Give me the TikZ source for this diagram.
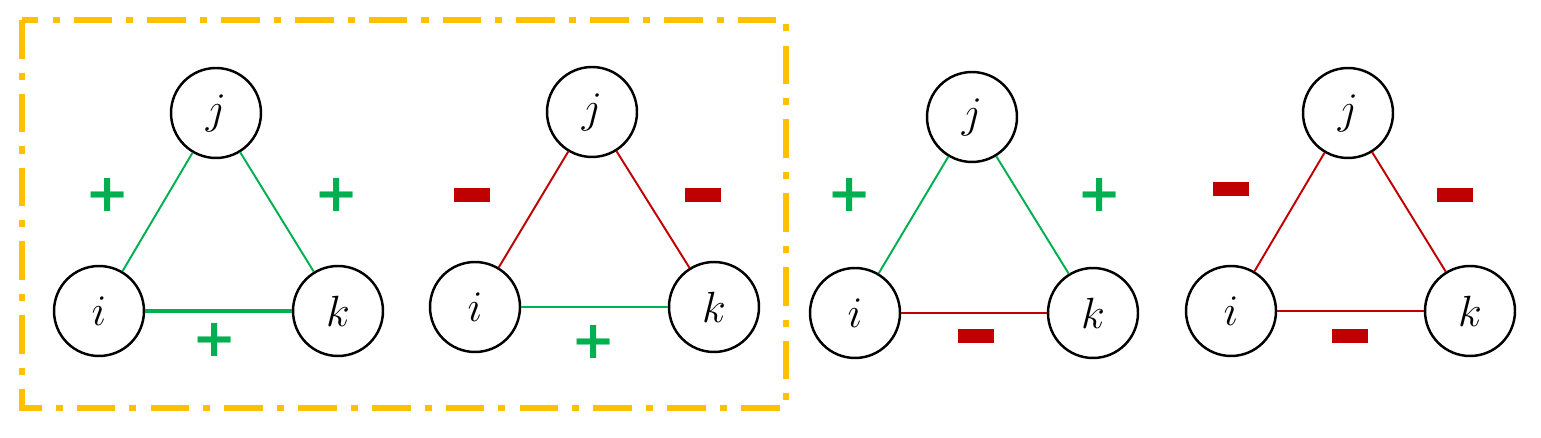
\documentclass[tikz,border=0pt]{standalone}
\usepackage{fontspec}
\newfontfamily\signfont{DejaVu Sans}
\definecolor{posgreen}{HTML}{00B050}
\definecolor{negred}{HTML}{C00000}
\definecolor{boxorange}{HTML}{FFC000}
\tikzset{
  vert/.style={circle, draw=black, line width=1.4pt, minimum size=1.8cm, inner sep=0pt, font=\fontsize{30}{30}\selectfont},
  posedge/.style={posgreen, line width=1.1pt},
  negedge/.style={negred, line width=1.1pt},
  plussign/.style={text=posgreen, font=\signfont\bfseries\fontsize{30}{30}\selectfont, inner sep=0pt},
  minussign/.style={fill=negred, minimum width=0.72cm, minimum height=0.28cm, inner sep=0pt}
}
\begin{document}
\begin{tikzpicture}[x=0.02cm, y=-0.02cm]
\useasboundingbox (0,0) rectangle (1541,438);
% bounding box of the balanced pair
\draw[boxorange, line width=3.2pt, dash pattern=on 22pt off 8pt on 4pt off 8pt] (22,20) rectangle (786,408);
% triangle 1
\node[vert] (j1) at (216,113) {$j$};
\node[vert] (i1) at (99,311) {$i$};
\node[vert] (k1) at (338,311) {$k$};
\draw[posedge] (i1) -- (j1);
\draw[posedge] (j1) -- (k1);
\draw[posedge, line width=2.2pt] (i1) -- (k1);
\node[plussign] (s11) at (108,195) {+};
\node[plussign] (s12) at (337,195) {+};
\node[plussign] (s13) at (215,340) {+};
% triangle 2
\node[vert] (j2) at (592,112) {$j$};
\node[vert] (i2) at (475,307) {$i$};
\node[vert] (k2) at (714,307) {$k$};
\draw[negedge] (i2) -- (j2);
\draw[negedge] (j2) -- (k2);
\draw[posedge] (i2) -- (k2);
\node[minussign] (s21) at (472,195) {};
\node[minussign] (s22) at (703,195) {};
\node[plussign] (s23) at (594,342) {+};
% triangle 3
\node[vert] (j3) at (972,117) {$j$};
\node[vert] (i3) at (855,313) {$i$};
\node[vert] (k3) at (1093,313) {$k$};
\draw[posedge] (i3) -- (j3);
\draw[posedge] (j3) -- (k3);
\draw[negedge] (i3) -- (k3);
\node[plussign] (s31) at (850,195) {+};
\node[plussign] (s32) at (1100,195) {+};
\node[minussign] (s33) at (976,336) {};
% triangle 4
\node[vert] (j4) at (1348,113) {$j$};
\node[vert] (i4) at (1231,311) {$i$};
\node[vert] (k4) at (1470,311) {$k$};
\draw[negedge] (i4) -- (j4);
\draw[negedge] (j4) -- (k4);
\draw[negedge] (i4) -- (k4);
\node[minussign] (s41) at (1231,189) {};
\node[minussign] (s42) at (1455,195) {};
\node[minussign] (s43) at (1350,336) {};
\end{tikzpicture}
\end{document}
